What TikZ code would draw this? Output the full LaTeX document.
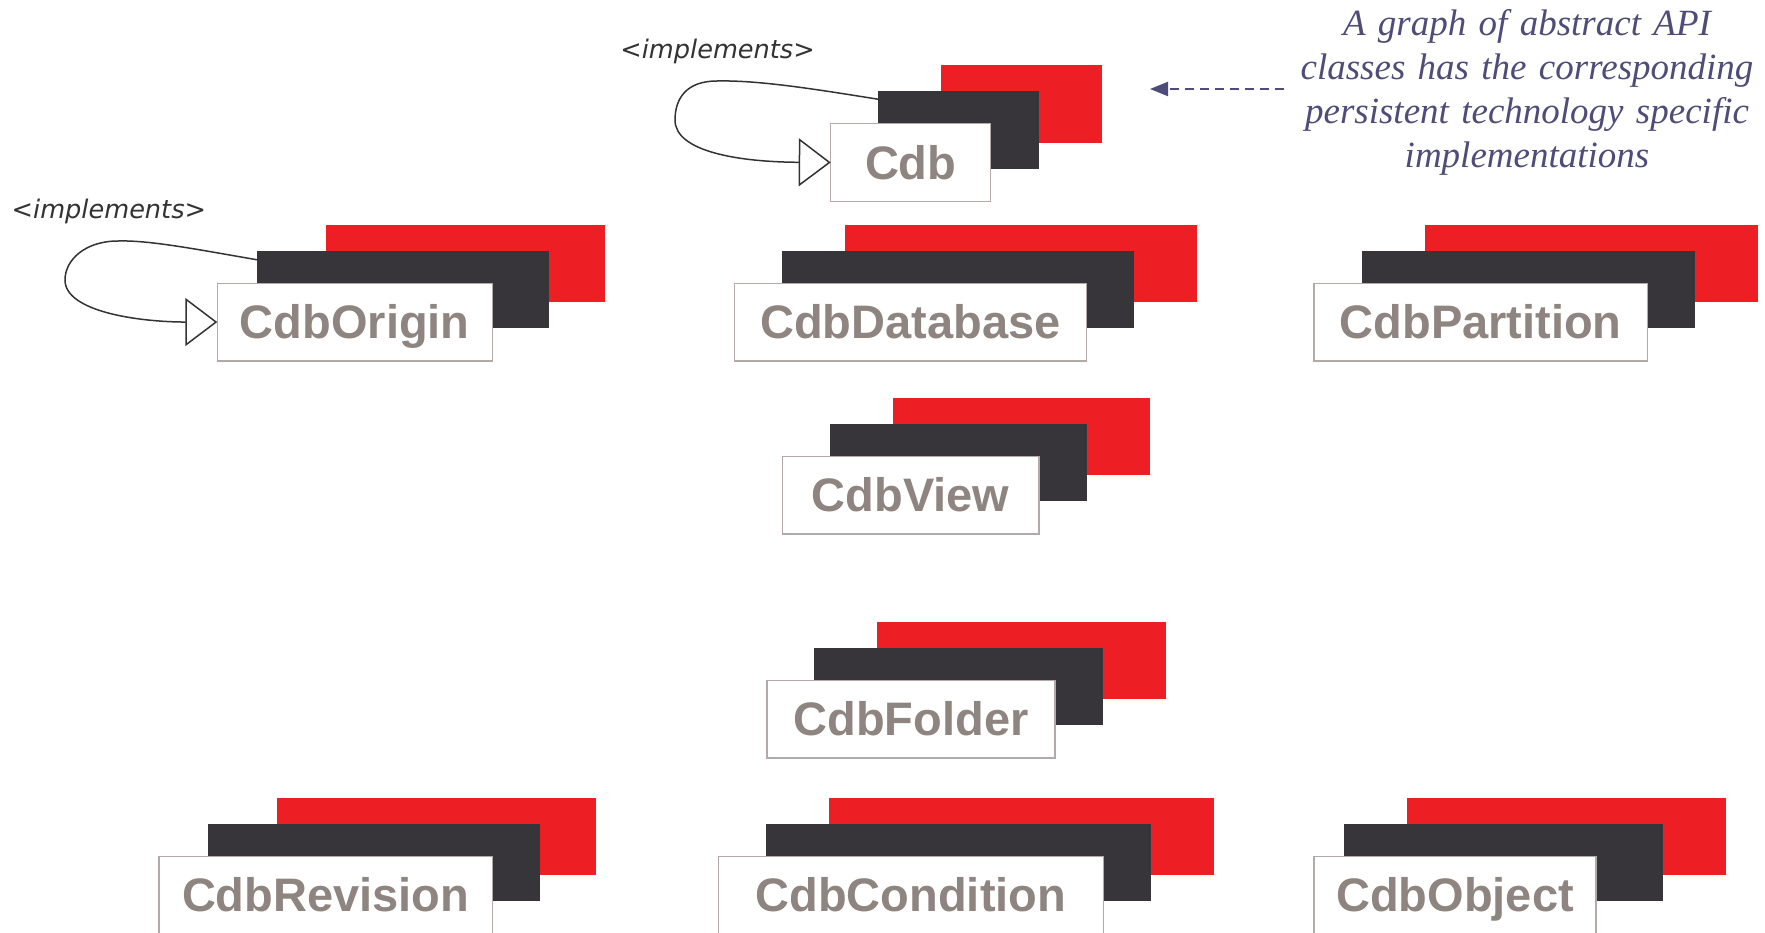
\documentclass[tikz,border=0pt]{standalone}
\usepackage{fontspec}
\usepackage{graphicx}
\setmainfont{Liberation Serif}
\newfontfamily\classfamily{Liberation Sans}
\newfontfamily\implfamily{DejaVu Sans}[ItalicFont={DejaVu Sans Oblique}]
\newfontfamily\notefamily{Liberation Serif}
\usetikzlibrary{arrows.meta,calc}

\definecolor{cdbred}{RGB}{237,30,36}
\definecolor{cdbdark}{RGB}{56,53,58}
\definecolor{boxline}{RGB}{178,170,166}
\definecolor{labelgray}{RGB}{142,132,128}
\definecolor{notecolor}{RGB}{80,76,122}
\definecolor{linkgray}{RGB}{51,51,51}

% One class: red plate, dark plate and the white name box in front.
% #1 name, #2 label, #3 top of white box, #4/#5 white x range,
% #6/#7 dark x range, #8/#9 red x range (1 unit = 0.5pt)
\newcommand\classstack[9]{%
  \pgfmathsetmacro\rcx{(#8+#9)/2}\pgfmathsetmacro\rwd{(#9-#8)*0.5}%
  \pgfmathsetmacro\dcx{(#6+#7)/2}\pgfmathsetmacro\dwd{(#7-#6)*0.5}%
  \pgfmathsetmacro\wcx{(#4+#5)/2}\pgfmathsetmacro\wwd{(#5-#4)*0.5}%
  \pgfmathsetmacro\rcy{#3-19.75}%
  \pgfmathsetmacro\dcy{#3+6.25}%
  \pgfmathsetmacro\wcy{#3+38.75}%
  \node[redplate, minimum width=\rwd pt] (#1-r) at (\rcx,\rcy) {};
  \node[darkplate, minimum width=\dwd pt] (#1-d) at (\dcx,\dcy) {};
  \node[classbox, minimum width=\wwd pt] (#1) at (\wcx,\wcy) {#2};
}

\begin{document}
\begin{tikzpicture}[x=0.5pt,y=-0.5pt,
  redplate/.style={fill=cdbred, inner sep=0pt, outer sep=0pt,
    minimum height=38.75pt},
  darkplate/.style={fill=cdbdark, inner sep=0pt, outer sep=0pt,
    minimum height=38.75pt},
  classbox/.style={fill=white, draw=boxline, line width=0.7pt, inner sep=0pt,
    outer sep=0pt, minimum height=38.75pt, text=labelgray,
    font=\classfamily\bfseries\fontsize{23.5pt}{28pt}\selectfont,
    text height=16.8pt, text depth=0pt},
  impllabel/.style={anchor=base west, inner sep=0pt, text=linkgray,
    font=\implfamily\itshape\fontsize{12.8pt}{15pt}\selectfont},
  implarrow/.style={draw=linkgray, line width=0.75pt,
    -{Triangle[open, length=16pt, width=24pt]}},
  notetext/.style={text=notecolor, align=center, text width=240pt,
    inner sep=1.5pt, font=\notefamily\itshape\fontsize{18.5pt}{22pt}\selectfont},
  notearrow/.style={draw=notecolor, line width=1pt,
    dash pattern=on 4.5pt off 3pt, -{Triangle[length=9pt, width=7pt]}}
]
\useasboundingbox (0,0) rectangle (1765,932);
\clip (0,0) rectangle (1765,932);
\fill[white] (0,0) rectangle (1765,932);

\classstack{cdb}{Cdb}{123.7}{830.7}{990.7}{878}{1038.7}{941}{1101.7}
\classstack{origin}{CdbOrigin}{283.3}{217.3}{492.3}{257.3}{548.7}{326}{605}
\classstack{database}{CdbDatabase}{283.3}{734.3}{1086.3}{782.3}{1133.7}{845}{1197}
\classstack{partition}{CdbPartition}{283.3}{1314}{1647.3}{1362.3}{1695}{1425}{1757.7}
\classstack{view}{CdbView}{456.3}{782.3}{1039}{830}{1087}{893}{1150}
\classstack{folder}{CdbFolder}{680.3}{767}{1055}{814}{1103}{877}{1166}
\classstack{revision}{CdbRevision}{856.3}{159}{492.3}{208}{540}{277}{596}
\classstack{condition}{CdbCondition}{856.3}{718.3}{1103.3}{766}{1151}{829}{1214}
\classstack{object}{CdbObject}{856.3}{1314}{1596}{1344}{1663}{1407}{1726}

% self-implementation loops
\node[impllabel] (impl-cdb) at (620,58.3) {<implements>};
\draw[implarrow] ($(cdb-d.north west)+(0,8)$)
  .. controls (820,90) and (760,80) .. (717,81)
  .. controls (685,81) and (675,100) .. (675,120)
  .. controls (675,152) and (740,162) .. (cdb.west);

\node[impllabel] (impl-origin) at (11.3,218.3) {<implements>};
\draw[implarrow] ($(origin-d.north west)+(0,9)$)
  .. controls (200,250) and (150,240) .. (118,241)
  .. controls (85,241) and (65,260) .. (65,280)
  .. controls (65,312) and (140,322) .. (origin.west);

% explanatory note
\node[notetext] (note) at (1527,92.2) {\strut A graph of abstract API\\
  \strut classes has the corresponding\\
  \strut persistent technology specific\\
  \strut implementations};
\coordinate (notetip) at (1150,89);
\draw[notearrow] (note.west |- notetip) -- (notetip);
\end{tikzpicture}
\end{document}
